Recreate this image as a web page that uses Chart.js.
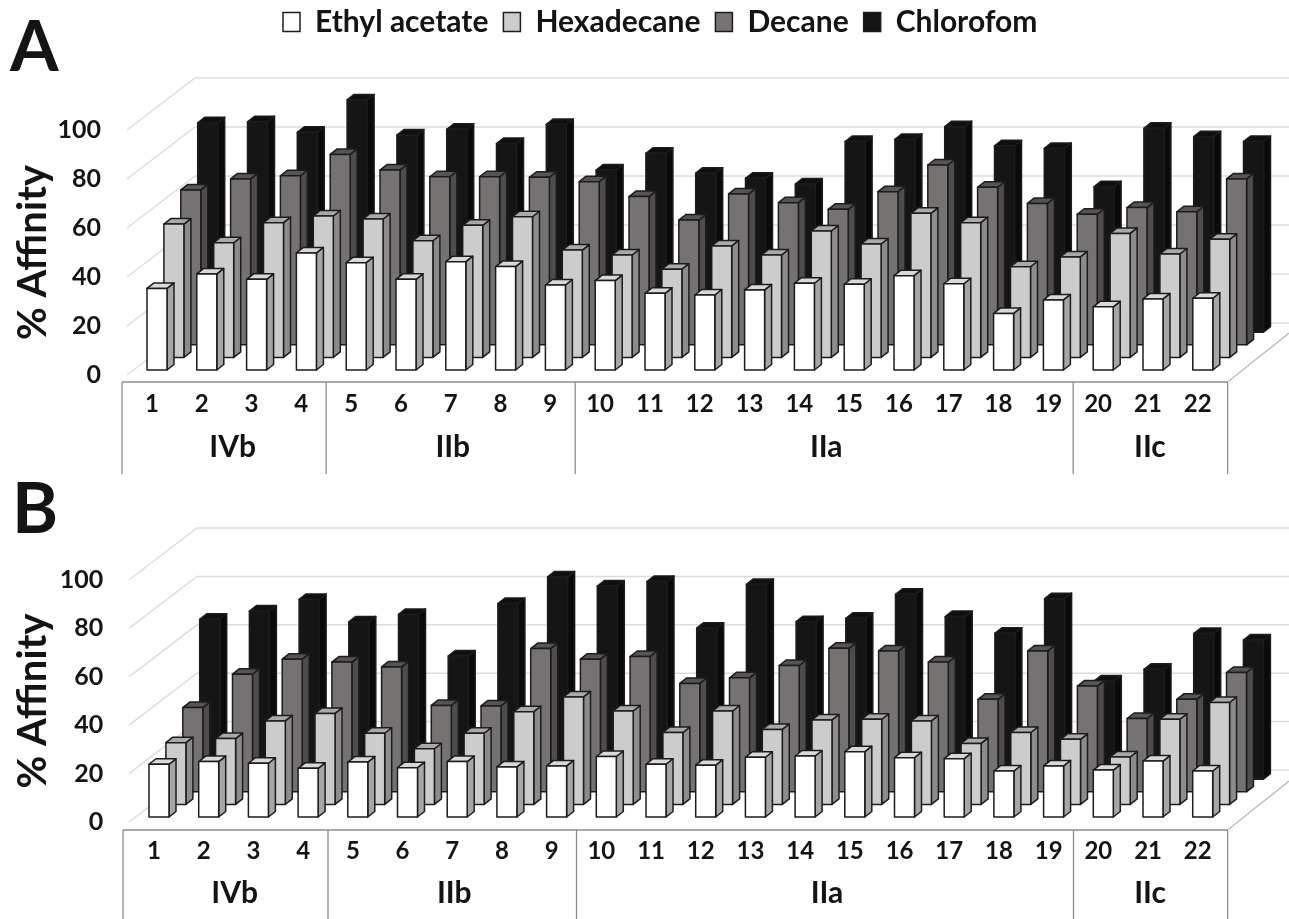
<!DOCTYPE html>
<html lang="en">
  <head>
    <meta charset="UTF-8" />
    <title>% Affinity</title>
    <script src="https://cdn.jsdelivr.net/npm/chart.js"></script>
    <style>
      body { margin: 0; background: #fff; }
      canvas { position: absolute; left: 0; }
    </style>
  </head>
  <body>
    <canvas id="chartA" width="1289" height="480" style="top: 0"></canvas>
    <canvas id="chartB" width="1289" height="439" style="top: 480px"></canvas>
<script>
const categories = ["1","2","3","4","5","6","7","8","9","10","11","12","13","14","15","16","17","18","19","20","21","22"];
const seriesNames = ["Ethyl acetate", "Hexadecane", "Decane", "Chlorofom"];
const yTicks = [0, 20, 40, 60, 80, 100];

// first and last category of each group
const groupNames = ["IVb", "IIb", "IIa", "IIc"];
const groupFirst = [0, 4, 9, 19];
const groupLast = [3, 8, 18, 21];

// panel A
const ethylA = [33.3,39.2,37,47.8,43.8,37,44.2,42.2,34.7,36.5,31.3,30.6,32.7,35.4,35,38.5,35.2,23.1,28.6,25.8,29,29.3];
const hexaA = [54.4,46.8,55,57.7,56.5,47.6,53.9,57.4,43.8,41.8,36,45.5,41.8,51.6,46.3,58.8,55,37,41,50.6,42.2,48.2];
const decaA = [63.2,67.7,69,77.7,71.3,68.6,68.6,68.4,66.6,60.5,50.9,61.6,58,55.3,62.5,73.4,64.3,57.7,53.3,56,54.3,67.7];
const chloA = [85.5,85.9,81.6,94.8,80.5,82.8,77,84.8,66.2,73,64.9,62.8,60.5,77.8,78.7,83.9,76.1,75,59.4,83.2,79.8,77.8];

// panel B
const ethylB = [21.8,22.9,22.2,20.1,22.7,20.4,22.9,20.7,21.1,25,21.8,21.4,24.7,25.2,27,24.5,24.1,19,21.1,19.4,23.1,19];
const hexaB = [25.5,27.2,34.5,37.6,29.4,23,29.4,38.3,44.4,38.6,29.7,38.6,31,34.9,35.2,34.5,25.2,29.7,26.9,19.6,35.2,42.1];
const decaB = [34.8,48.6,54.8,53.6,51.6,35.7,35.5,59.2,54.8,55.9,44.8,47.1,52.2,59.3,58.2,53.6,38.2,58.2,43.7,30.3,38.2,49.3];
const chloB = [66.1,69.5,74.3,65,68.1,50.9,72.6,83.6,79.8,81.7,62.4,80.5,65.1,66.5,76.4,67.2,60.3,74.6,40.6,45.4,60.2,57.5];

const faceColors = ["#ffffff", "#cdcccc", "#767272", "#161515"];
const sideColors = ["#a6a6a6", "#8c8c8c", "#4e4c4c", "#0a0a0a"];
const topColors = ["#d9d9d9", "#a9a9a9", "#565454", "#0f0f0f"];

const FONT = "Lato";
const INK = "#141414";

// the 3d look: every series sits further back, every bar has a side and a top face
const frontDy = 5;
const rowDx = 16.9, rowDy = 12.6;
const barDx = 7, barDy = 5.5;
const wallDx = 68, wallDy = 52;

const panel3d = {
  id: "panel3d",
  afterLayout(chart) {
    // the legend only reserves a thin band, move it up to the page top
    if (chart.options.plugins.legend.display) {
      chart.legend.left = 268;
      chart.legend.top = -8;
    }
  },
  beforeDatasetsDraw(chart) {
    const ctx = chart.ctx;
    const yScale = chart.scales.y;
    const xScale = chart.scales.x;
    const opts = chart.options.plugins.panel3d;

    // walls and floor
    ctx.save();
    ctx.strokeStyle = "#dcdcdc";
    ctx.lineWidth = 1.5;
    yTicks.forEach((v) => {
      const y = yScale.getPixelForValue(v);
      ctx.beginPath();
      ctx.moveTo(opts.wallLeft, y);
      ctx.lineTo(opts.wallLeft + wallDx, y - wallDy);
      ctx.lineTo(chart.width, y - wallDy);
      ctx.stroke();
    });
    ctx.strokeStyle = "#bdbdbd";
    ctx.beginPath();
    ctx.moveTo(opts.axisRight, opts.axisY);
    ctx.lineTo(chart.width, opts.axisY - 49);
    ctx.stroke();
    ctx.restore();

    // bars, back row first
    for (let i = chart.data.datasets.length - 1; i >= 0; i--) {
      chart.getDatasetMeta(i).data.forEach((bar) => {
        const shift = opts.firstBar + bar.width / 2 - xScale.getPixelForValue(0);
        const left = bar.x - bar.width / 2 + shift + rowDx * i;
        const right = left + bar.width;
        const top = bar.y - frontDy - rowDy * i;
        const bottom = bar.base - frontDy - rowDy * i;
        ctx.save();
        ctx.strokeStyle = "#1c1c1c";
        ctx.lineWidth = 1.5;
        ctx.lineJoin = "round";

        ctx.fillStyle = sideColors[i];
        ctx.beginPath();
        ctx.moveTo(right, top);
        ctx.lineTo(right + barDx, top - barDy);
        ctx.lineTo(right + barDx, bottom - barDy);
        ctx.lineTo(right, bottom);
        ctx.closePath();
        ctx.fill();
        ctx.stroke();

        ctx.fillStyle = topColors[i];
        ctx.beginPath();
        ctx.moveTo(left, top);
        ctx.lineTo(left + barDx, top - barDy);
        ctx.lineTo(right + barDx, top - barDy);
        ctx.lineTo(right, top);
        ctx.closePath();
        ctx.fill();
        ctx.stroke();

        ctx.fillStyle = faceColors[i];
        ctx.beginPath();
        ctx.rect(left, top, bar.width, bottom - top);
        ctx.fill();
        ctx.stroke();
        ctx.restore();
      });
    }
    return false;
  },
  afterDraw(chart) {
    const ctx = chart.ctx;
    const xScale = chart.scales.x;
    const opts = chart.options.plugins.panel3d;

    ctx.save();
    ctx.strokeStyle = "#8c8c8c";
    ctx.lineWidth = 1.3;
    ctx.beginPath();
    ctx.moveTo(opts.axisLeft, opts.axisY);
    ctx.lineTo(opts.axisRight, opts.axisY);
    ctx.stroke();

    ctx.fillStyle = INK;
    ctx.textAlign = "center";
    ctx.textBaseline = "middle";
    ctx.font = "bold 30px " + FONT;
    groupNames.forEach((name, g) => {
      const from = xScale.getPixelForValue(groupFirst[g]);
      const to = xScale.getPixelForValue(groupLast[g]);
      ctx.fillText(name, (from + to) / 2 + (g === 0 ? 1 : -3), opts.groupY);

      // dividers between the groups
      const edge = g === 0 ? opts.axisLeft : (xScale.getPixelForValue(groupFirst[g] - 1) + from) / 2 - 5;
      ctx.beginPath();
      ctx.moveTo(edge, opts.axisY);
      ctx.lineTo(edge, opts.axisY + 92);
      ctx.stroke();
    });
    ctx.beginPath();
    ctx.moveTo(opts.axisRight, opts.axisY);
    ctx.lineTo(opts.axisRight, opts.axisY + 92);
    ctx.stroke();

    ctx.textAlign = "left";
    ctx.font = "bold 70px " + FONT;
    ctx.fillText(opts.letter, opts.letterX, opts.letterY);
    ctx.restore();
  },
};

function drawPanel(id, values, leftEdge, bottom, panelOpts, showLegend) {
  new Chart(document.getElementById(id), {
    type: "bar",
    plugins: [panel3d],
    data: {
      labels: categories,
      datasets: seriesNames.map((name, i) => ({
        label: name,
        data: values[i],
        backgroundColor: faceColors[i],
        borderColor: "#1c1c1c",
        borderWidth: 1.5,
      })),
    },
    options: {
      responsive: false,
      animation: false,
      layout: { padding: { top: panelOpts.top, right: 1289 - panelOpts.axisRight, bottom: 0, left: 0 } },
      datasets: { bar: { grouped: false, barThickness: 20 } },
      scales: {
        x: {
          grid: { display: false, drawTicks: false },
          border: { display: false },
          ticks: {
            color: INK,
            font: { family: FONT, size: 24, weight: "bold" },
            padding: 15,
            labelOffset: -5,
            maxRotation: 0,
            autoSkip: false,
          },
          afterFit(scale) { scale.height = bottom; },
        },
        y: {
          min: 0,
          max: 100,
          grid: { display: false, drawTicks: false },
          border: { display: false },
          ticks: {
            color: INK,
            stepSize: 20,
            padding: 31,
            font: { family: FONT, size: 25, weight: "bold" },
          },
          title: {
            display: true,
            text: "% Affinity",
            color: INK,
            font: { family: FONT, size: 40, weight: "bold" },
            padding: { top: 9, bottom: 0 },
          },
          afterFit(scale) { scale.width = leftEdge; },
        },
      },
      plugins: {
        tooltip: { enabled: false },
        legend: {
          display: showLegend,
          position: "top",
          align: "start",
          maxHeight: 30,
          labels: {
            color: INK,
            boxWidth: 17,
            boxHeight: 19,
            padding: 15,
            font: { family: FONT, size: 30, weight: "bold" },
          },
        },
        panel3d: panelOpts,
      },
    },
  });
}

drawPanel("chartA", [ethylA, hexaA, decaA, chloA], 132, 105, {
  top: 100, firstBar: 147, wallLeft: 127, axisLeft: 122, axisRight: 1227.6, axisY: 382, groupY: 447,
  letter: "A", letterX: 10, letterY: 48,
}, true);

drawPanel("chartB", [ethylB, hexaB, decaB, chloB], 134.2, 97, {
  top: 100, firstBar: 149, wallLeft: 129, axisLeft: 123, axisRight: 1227.6, axisY: 350, groupY: 413,
  letter: "B", letterX: 12, letterY: 30,
}, false);
</script>
  </body>
</html>
